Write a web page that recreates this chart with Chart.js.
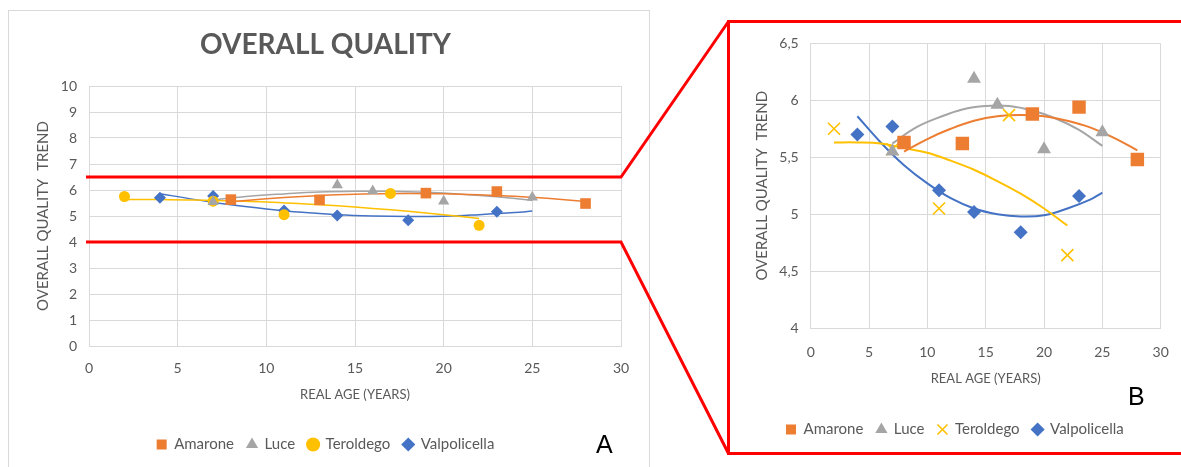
<!DOCTYPE html>
<html>
<head>
<meta charset="utf-8">
<script src="https://cdn.jsdelivr.net/npm/chart.js@4.4.0/dist/chart.umd.min.js"></script>
<style>
  body { margin: 0; width: 1181px; height: 467px; overflow: hidden; background: #fff; position: relative; font-family: Lato, sans-serif; }
  #boxA { position: absolute; left: 8px; top: 10px; width: 640px; height: 470px; border: 1px solid #d9d9d9; }
  #boxB { position: absolute; left: 727px; top: 20px; width: 470px; height: 429px; border: 3px solid #f00; }
  canvas { display: block; }
  .tag { position: absolute; font-family: "Liberation Sans", Arial, sans-serif; font-size: 25px; color: #000; line-height: 1; }
  #links { position: absolute; left: 0; top: 0; pointer-events: none; }
</style>
</head>
<body>
<div id="boxA"><canvas id="chartA" width="640" height="456"></canvas></div>
<div id="boxB"><canvas id="chartB" width="470" height="429"></canvas></div>
<div class="tag" style="left:596px;top:432px">A</div>
<div class="tag" style="left:1128px;top:384px">B</div>
<svg id="links" width="1181" height="467"></svg>
<script>
// valori (età reale in anni, qualità complessiva)
const seriesNames = ['Amarone', 'Luce', 'Teroldego', 'Valpolicella'];
const amaroneX = [8, 13, 19, 23, 28];
const amaroneY = [5.63, 5.62, 5.88, 5.94, 5.48];
const luceX = [7, 14, 16, 20, 25];
const luceY = [5.55, 6.19, 5.96, 5.57, 5.72];
const teroldegoX = [2, 7, 11, 17, 22];
const teroldegoY = [5.75, 5.57, 5.05, 5.87, 4.64];
const valpolicellaX = [4, 7, 11, 14, 18, 23];
const valpolicellaY = [5.70, 5.77, 5.21, 5.02, 4.84, 5.16];

// linee di tendenza
const amaroneTrendX = [8, 10, 12, 14, 16, 18, 20, 22, 24, 26, 28];
const amaroneTrendY = [5.55, 5.66, 5.75, 5.82, 5.86, 5.87, 5.86, 5.82, 5.76, 5.67, 5.56];
const luceTrendX = [7, 9, 11, 13, 15, 17, 19, 21, 23, 25];
const luceTrendY = [5.62, 5.76, 5.85, 5.92, 5.95, 5.95, 5.91, 5.84, 5.74, 5.60];
const teroldegoTrendX = [2, 4, 6, 8, 10, 12, 14, 16, 18, 20, 22];
const teroldegoTrendY = [5.63, 5.63, 5.62, 5.58, 5.54, 5.47, 5.39, 5.29, 5.18, 5.05, 4.90];
const valpolicellaTrendX = [4, 6, 8, 10, 12, 14, 16, 18, 20, 22, 24, 25];
const valpolicellaTrendY = [5.86, 5.63, 5.43, 5.27, 5.14, 5.05, 5.00, 4.98, 4.99, 5.05, 5.13, 5.19];

const xTicks = ['0', '5', '10', '15', '20', '25', '30'];
const yTicksA = ['0', '1', '2', '3', '4', '5', '6', '7', '8', '9', '10'];
const yTicksB = ['4', '4,5', '5', '5,5', '6', '6,5'];

const colors = ['#ED7D31', '#A5A5A5', '#FFC000', '#4472C4'];
const pts = (xs, ys) => xs.map((x, i) => ({ x: x, y: ys[i] }));

const markX = [amaroneX, luceX, teroldegoX, valpolicellaX];
const markY = [amaroneY, luceY, teroldegoY, valpolicellaY];
const trendX = [amaroneTrendX, luceTrendX, teroldegoTrendX, valpolicellaTrendX];
const trendY = [amaroneTrendY, luceTrendY, teroldegoTrendY, valpolicellaTrendY];

const grey = '#595959';
const gridCol = '#d9d9d9';

function makeDatasets(styles, sizes, lineW) {
  const ds = [];
  seriesNames.forEach((name, i) => {
    const cross = styles[i] === 'crossRot';
    ds.push({
      label: name,
      data: pts(markX[i], markY[i]),
      showLine: false,
      pointStyle: styles[i],
      pointRadius: sizes[i],
      pointHoverRadius: sizes[i],
      pointBackgroundColor: colors[i],
      pointBorderColor: colors[i],
      pointBorderWidth: cross ? 1.6 : 0,
      backgroundColor: colors[i],
      borderColor: colors[i]
    });
  });
  seriesNames.forEach((name, i) => {
    ds.push({
      label: name + ' trend',
      isTrend: true,
      data: pts(trendX[i], trendY[i]),
      showLine: true,
      pointRadius: 0,
      borderColor: colors[i],
      borderWidth: lineW,
      tension: 0.4,
      fill: false
    });
  });
  return ds;
}

function makeOptions(o) {
  return {
    responsive: false,
    animation: false,
    layout: { padding: o.pad },
    plugins: {
      title: o.title ? {
        display: true, text: o.title, color: grey,
        font: { family: 'Lato', size: 28, weight: 'bold' },
        padding: { top: 12.2, bottom: 24.2 }
      } : { display: false },
      legend: {
        position: 'bottom',
        labels: {
          usePointStyle: true, boxWidth: 10, boxHeight: 10, padding: 13,
          color: grey, font: { family: 'Lato', size: 15 },
          filter: (item, data) => !data.datasets[item.datasetIndex].isTrend
        }
      },
      tooltip: { enabled: false }
    },
    scales: {
      x: {
        type: 'linear', min: 0, max: 30,
        afterBuildTicks: s => { s.ticks = xTicks.map(t => ({ value: Number(t) })); },
        ticks: { color: grey, font: { family: 'Lato', size: 14 }, padding: o.xTickPad, callback: (v, i) => xTicks[i] },
        grid: { color: gridCol, drawTicks: false },
        border: { color: gridCol },
        title: { display: true, text: 'REAL AGE (YEARS)', color: grey, font: { family: 'Lato', size: 13 }, padding: { top: 0, bottom: o.xTitlePad } },
        afterFit: s => { s.height = o.xH; }
      },
      y: {
        type: 'linear', min: o.yMin, max: o.yMax,
        afterBuildTicks: s => { s.ticks = o.yTicks.map(t => ({ value: Number(t.replace(',', '.')) })); },
        ticks: { color: grey, font: { family: 'Lato', size: 14 }, padding: 12, callback: (v, i) => o.yTicks[i] },
        grid: { color: gridCol, drawTicks: false },
        border: { color: gridCol },
        title: { display: true, text: 'OVERALL QUALITY  TREND', color: grey, font: { family: 'Lato', size: 15 }, padding: { top: 4, bottom: 0 } },
        afterFit: s => { s.width = o.yW; }
      }
    }
  };
}

const chartA = new Chart(document.getElementById('chartA').getContext('2d'), {
  type: 'scatter',
  data: { datasets: makeDatasets(['rect', 'triangle', 'circle', 'rectRot'], [7.5, 6.5, 5.5, 6], 1.5) },
  options: makeOptions({
    title: 'OVERALL QUALITY',
    pad: { left: 21, right: 28, top: 5, bottom: 5 },
    yW: 59, xH: 78, xTickPad: 14, xTitlePad: 21.2,
    yMin: 0, yMax: 10, yTicks: yTicksA
  })
});

const chartB = new Chart(document.getElementById('chartB').getContext('2d'), {
  type: 'scatter',
  data: { datasets: makeDatasets(['rect', 'triangle', 'crossRot', 'rectRot'], [9.5, 8, 8.5, 7], 2) },
  options: makeOptions({
    title: null,
    pad: { left: 19, right: 39.3, top: 17.7, bottom: 5 },
    yW: 61.7, xH: 81, xTickPad: 16, xTitlePad: 22.2,
    yMin: 4, yMax: 6.5, yTicks: yTicksB
  })
});

// linee rosse di collegamento tra il dettaglio A e il riquadro B
const rA = document.getElementById('chartA').getBoundingClientRect();
const rB = document.getElementById('boxB').getBoundingClientRect();
const sx = chartA.scales.x, sy = chartA.scales.y;
const xL = rA.left + sx.left - 3, xR = rA.left + sx.right;
const yHi = rA.top + sy.getPixelForValue(6.5), yLo = rA.top + sy.getPixelForValue(4);
const svg = document.getElementById('links');
svg.innerHTML =
  '<polyline fill="none" stroke="#f00" stroke-width="3" points="' + [xL, yHi, xR, yHi, rB.left + 1.5, rB.top + 1.5].join(',') + '"/>' +
  '<polyline fill="none" stroke="#f00" stroke-width="3" points="' + [xL, yLo, xR, yLo, rB.left + 1.5, rB.bottom - 1.5].join(',') + '"/>';
</script>
</body>
</html>
